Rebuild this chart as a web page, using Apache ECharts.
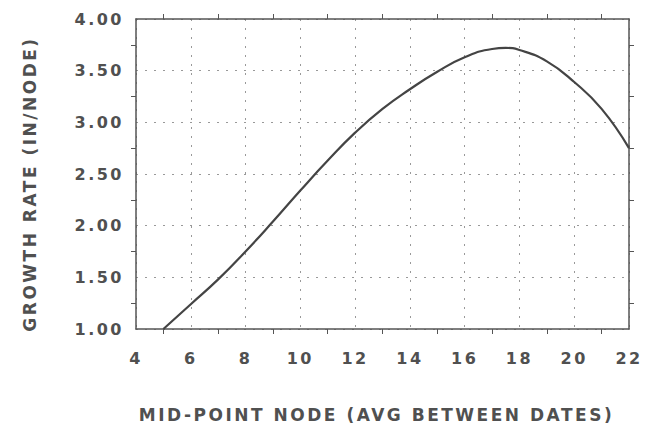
<!DOCTYPE html>
<html>
<head>
<meta charset="utf-8">
<script src="https://cdn.jsdelivr.net/npm/echarts@6/dist/echarts.min.js"></script>
<style>
html,body{margin:0;padding:0;background:#fff;}
#chart{width:653px;height:428px;}
#chart text{letter-spacing:2.5px;}
</style>
</head>
<body>
<div id="chart"></div>
<script>
// Data
const nodes = [5, 6, 7, 8, 9, 10, 11, 12, 13, 14, 15, 16, 17, 17.5, 18, 19, 20, 21, 22];
const rates = [1.00, 1.24, 1.48, 1.75, 2.04, 2.34, 2.63, 2.90, 3.13, 3.32, 3.49, 3.63, 3.71, 3.72, 3.70, 3.59, 3.39, 3.13, 2.75];
const xTicks = [4, 6, 8, 10, 12, 14, 16, 18, 20, 22];
const yTicks = [1.00, 1.50, 2.00, 2.50, 3.00, 3.50, 4.00];
const xTitle = 'MID-POINT NODE (AVG BETWEEN DATES)';
const yTitle = 'GROWTH RATE (IN/NODE)';

const textColor = '#505050';
const lineColor = '#555';
const font = 'DejaVu Sans';

const chart = echarts.init(document.getElementById('chart'), null, {renderer: 'svg'});
const axisCommon = {
  axisLine: {show: true, lineStyle: {color: lineColor, width: 1.5}},
  axisTick: {show: false},
  minorTick: {show: true, splitNumber: 2, length: 5, lineStyle: {color: lineColor, width: 1}},
  minorSplitLine: {show: false}
};
const gridLine = {show: true, lineStyle: {color: '#999', type: [2, 7], width: 1}};
const xMin = xTicks[0], xMax = xTicks[xTicks.length - 1];
const yMin = yTicks[0], yMax = yTicks[yTicks.length - 1];

chart.setOption({
  animation: false,
  backgroundColor: '#fff',
  grid: {left: 136, right: 24, top: 19, bottom: 96},
  xAxis: [
    Object.assign({}, axisCommon, {
      type: 'value', min: xMin, max: xMax, interval: xTicks[1] - xTicks[0],
      position: 'bottom',
      name: xTitle, nameLocation: 'middle', nameGap: 77,
      nameTextStyle: {fontFamily: font, fontWeight: 'bold', fontSize: 17, color: textColor, padding: [0, 12, 0, 0]},
      axisLabel: {fontFamily: font, fontWeight: 'bold', fontSize: 16, color: textColor, margin: 21},
      splitLine: gridLine
    }),
    Object.assign({}, axisCommon, {
      type: 'value', min: xMin, max: xMax, interval: xTicks[1] - xTicks[0],
      position: 'top',
      axisLabel: {show: false},
      splitLine: {show: false}
    })
  ],
  yAxis: [
    Object.assign({}, axisCommon, {
      type: 'value', min: yMin, max: yMax, interval: yTicks[1] - yTicks[0],
      position: 'left',
      name: yTitle, nameLocation: 'middle', nameGap: 98, nameRotate: 90,
      nameTextStyle: {fontFamily: font, fontWeight: 'bold', fontSize: 17, color: textColor, padding: [0, 20, 0, 0]},
      axisLabel: {fontFamily: font, fontWeight: 'bold', fontSize: 16, color: textColor, margin: 12,
        formatter: v => v.toFixed(2)},
      splitLine: gridLine
    }),
    Object.assign({}, axisCommon, {
      type: 'value', min: yMin, max: yMax, interval: yTicks[1] - yTicks[0],
      position: 'right',
      axisLabel: {show: false},
      splitLine: {show: false}
    })
  ],
  series: [{
    type: 'line',
    xAxisIndex: 0, yAxisIndex: 0,
    data: nodes.map((n, i) => [n, rates[i]]),
    smooth: 0.5,
    showSymbol: false,
    lineStyle: {color: '#444', width: 2.2}
  }]
});
</script>
</body>
</html>
